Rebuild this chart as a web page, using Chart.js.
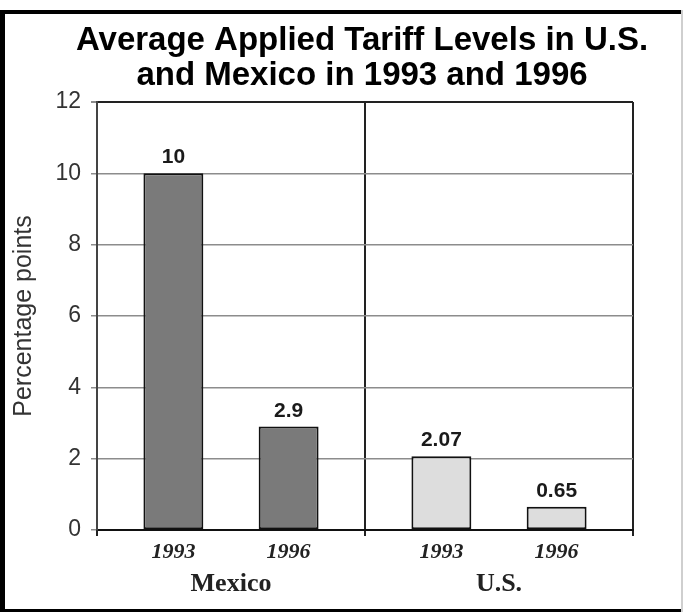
<!DOCTYPE html>
<html>
<head>
<meta charset="utf-8">
<title>Average Applied Tariff Levels</title>
<script src="https://cdn.jsdelivr.net/npm/chart.js@4.4.1/dist/chart.umd.min.js"></script>
<style>
  html, body { margin: 0; padding: 0; background: #fff; }
  canvas { display: block; }
</style>
</head>
<body>
<canvas id="tariffChart" width="683" height="614"></canvas>
<script>
// ---- data ----
const chartTitle = ['Average Applied Tariff Levels in U.S.', 'and Mexico in 1993 and 1996'];
const countries = ['Mexico', 'U.S.'];
const years = ['1993', '1996'];
const tariff1993 = [10, 2.07];
const tariff1996 = [2.9, 0.65];
const yTicks = [0, 2, 4, 6, 8, 10, 12];

// bar fills per country (Mexico dark, U.S. light)
const countryColors = ['#7a7a7a', '#dddddd'];

const SANS = '"Liberation Sans", Arial, Helvetica, sans-serif';
const SERIF = '"Liberation Serif", "Times New Roman", serif';

Chart.defaults.font.family = SANS;
Chart.defaults.color = '#333';

// white page, two-line title and the black frame around the figure
const framePlugin = {
  id: 'frame',
  beforeDraw(chart) {
    const ctx = chart.ctx;
    ctx.save();
    ctx.fillStyle = '#fff';
    ctx.fillRect(0, 0, chart.width, chart.height);
    ctx.restore();
  },
  afterDraw(chart) {
    const ctx = chart.ctx;
    ctx.save();
    ctx.fillStyle = '#000';
    ctx.font = 'bold 33px ' + SANS;
    ctx.textAlign = 'center';
    ctx.textBaseline = 'alphabetic';
    ctx.fillText(chartTitle[0], 362, 50);
    ctx.fillText(chartTitle[1], 362, 85);

    ctx.fillRect(0, 10, chart.width, 4);
    ctx.fillRect(0, 10, 5, 602);
    ctx.fillRect(0, 609, chart.width, 3);
    ctx.fillStyle = '#cfcfcf';
    ctx.fillRect(681, 10, 2, 602);
    ctx.restore();
  }
};

// value above each bar, year below each bar
const barLabels = {
  id: 'barLabels',
  afterDatasetsDraw(chart) {
    const ctx = chart.ctx;
    ctx.save();
    ctx.textAlign = 'center';
    ctx.fillStyle = '#1a1a1a';
    ctx.font = 'bold 21px ' + SANS;
    ctx.textBaseline = 'alphabetic';
    chart.data.datasets.forEach((ds, i) => {
      chart.getDatasetMeta(i).data.forEach((bar, j) => {
        ctx.fillText(String(ds.data[j]), bar.x, bar.y - 10);
      });
    });
    ctx.font = 'italic bold 22px ' + SERIF;
    ctx.fillStyle = '#222';
    ctx.textBaseline = 'middle';
    const yearY = chart.chartArea.bottom + 22;
    chart.data.datasets.forEach((ds, i) => {
      chart.getDatasetMeta(i).data.forEach(bar => {
        ctx.fillText(ds.label, bar.x, yearY);
      });
    });
    ctx.restore();
  }
};

const barStyle = {
  backgroundColor: countryColors,
  borderColor: '#111',
  borderWidth: 2,
  borderSkipped: false,
  categoryPercentage: 0.86,
  barPercentage: 0.52
};

new Chart(document.getElementById('tariffChart'), {
  type: 'bar',
  data: {
    labels: countries,
    datasets: [
      Object.assign({ label: years[0], data: tariff1993 }, barStyle),
      Object.assign({ label: years[1], data: tariff1996 }, barStyle)
    ]
  },
  options: {
    responsive: false,
    animation: false,
    layout: { padding: { top: 102, left: 0, right: 50, bottom: 14 } },
    plugins: {
      legend: { display: false },
      tooltip: { enabled: false },
      title: { display: false }
    },
    scales: {
      x: {
        afterFit: scale => { scale.height = 70; },
        grid: {
          offset: true,
          color: '#222',
          lineWidth: 2,
          tickLength: 6
        },
        border: { color: '#111', width: 2 },
        ticks: {
          color: '#222',
          padding: 33,
          font: { family: SERIF, size: 26, weight: 'bold' }
        }
      },
      y: {
        min: 0,
        max: 12,
        afterBuildTicks: scale => { scale.ticks = yTicks.map(v => ({ value: v })); },
        afterFit: scale => { scale.width = 97; },
        grid: {
          color: c => c.tick && c.tick.value === 12 ? '#222' : '#8c8c8c',
          lineWidth: c => c.tick && c.tick.value === 12 ? 2 : 1.5,
          tickColor: '#8c8c8c',
          tickLength: 6
        },
        border: { color: '#444', width: 2 },
        ticks: {
          color: '#333',
          padding: 10,
          font: { size: 23 }
        },
        title: {
          display: true,
          text: 'Percentage points',
          color: '#333',
          font: { size: 25 },
          padding: { top: 9 }
        }
      }
    }
  },
  plugins: [framePlugin, barLabels]
});
</script>
</body>
</html>
